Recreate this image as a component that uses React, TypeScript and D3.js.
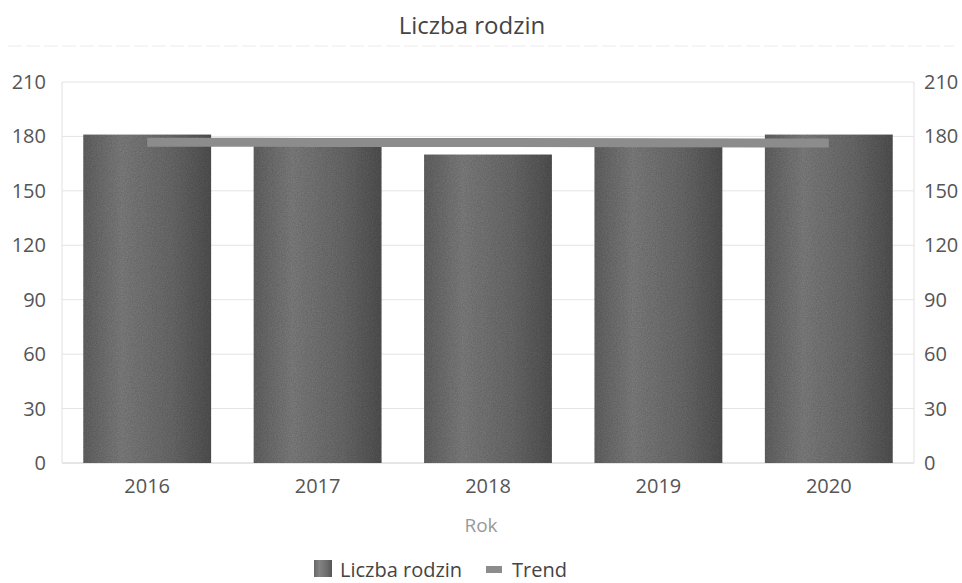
import React from "react";
import * as d3 from "d3";

const years = ["2016", "2017", "2018", "2019", "2020"];
const families = [181, 176, 170, 175, 181];
const yTicks = [0, 30, 60, 90, 120, 150, 180, 210];
const title = "Liczba rodzin";
const xTitle = "Rok";
const legendLabels = ["Liczba rodzin", "Trend"];

export default function App() {
  const W = 962, H = 583;
  const left = 62, right = 914, top = 82, bottom = 463;
  const x = d3.scaleBand<string>().domain(years).range([left, right]).paddingInner(0.25).paddingOuter(0.125);
  const y = d3.scaleLinear().domain([0, 210]).range([bottom, top]);
  const n = families.length;
  const xi = d3.range(n);
  const mx = d3.mean(xi)!, my = d3.mean(families)!;
  const slope = d3.sum(xi, (i) => (i - mx) * (families[i] - my)) / d3.sum(xi, (i) => (i - mx) ** 2);
  const trend = xi.map((i) => my + slope * (i - mx));
  const line = d3.line<number>().x((_, i) => x(years[i])! + x.bandwidth() / 2).y((d) => y(d));
  const font = "'Open Sans', 'DejaVu Sans', sans-serif";
  return (
    <svg width={W} height={H} style={{ position: "absolute", left: 0, top: 0 }} fontFamily={font}>
      <defs>
        <linearGradient id="barG" x1="0" x2="1" y1="0" y2="0">
          <stop offset="0" stopColor="#676767" />
          <stop offset="0.3" stopColor="#838383" />
          <stop offset="0.7" stopColor="#6e6e6e" />
          <stop offset="1" stopColor="#555" />
        </linearGradient>
        <filter id="noise" x="0" y="0" width="1" height="1">
          <feTurbulence type="fractalNoise" baseFrequency="0.8" numOctaves="2" result="t" />
          <feColorMatrix type="matrix" values="0 0 0 0 0  0 0 0 0 0  0 0 0 0 0  0 0 0 0.45 0" in="t" result="n" />
          <feComposite in="n" in2="SourceGraphic" operator="in" result="nn" />
          <feMerge><feMergeNode in="SourceGraphic" /><feMergeNode in="nn" /></feMerge>
        </filter>
      </defs>
      <rect width={W} height={H} fill="#fff" />
      <text x={472} y={34} textAnchor="middle" fontSize={24} fill="#444">{title}</text>
      <line x1={8} x2={954} y1={46} y2={46} stroke="#ececec" strokeDasharray="14 4" />
      {yTicks.map((t) => (
        <g key={t}>
          <line x1={left} x2={right} y1={y(t)} y2={y(t)} stroke={t === 0 ? "#ccc" : "#e4e4e4"} />
          <text x={46} y={y(t)} dy="0.35em" textAnchor="end" fontSize={20} fill="#555">{t}</text>
          <text x={924} y={y(t)} dy="0.35em" textAnchor="start" fontSize={20} fill="#555">{t}</text>
        </g>
      ))}
      <line x1={left} x2={left} y1={top} y2={bottom} stroke="#e0e0e0" />
      <line x1={right} x2={right} y1={top} y2={bottom} stroke="#e0e0e0" />
      {families.map((v, i) => (
        <rect key={years[i]} x={x(years[i])} y={y(v)} width={x.bandwidth()} height={bottom - y(v)} fill="url(#barG)" filter="url(#noise)" />
      ))}
      <path d={line(trend)!} fill="none" stroke="#8c8c8c" strokeWidth={9} />
      {years.map((yr) => (
        <text key={yr} x={x(yr)! + x.bandwidth() / 2} y={493} textAnchor="middle" fontSize={20} fill="#555">{yr}</text>
      ))}
      <text x={481} y={532} textAnchor="middle" fontSize={19} fill="#999">{xTitle}</text>
      <rect x={314} y={560} width={18} height={17} fill="url(#barG)" />
      <text x={340} y={577} fontSize={20} fill="#444">{legendLabels[0]}</text>
      <rect x={486} y={566} width={16} height={7} fill="#8c8c8c" />
      <text x={512} y={577} fontSize={20} fill="#444">{legendLabels[1]}</text>
    </svg>
  );
}
